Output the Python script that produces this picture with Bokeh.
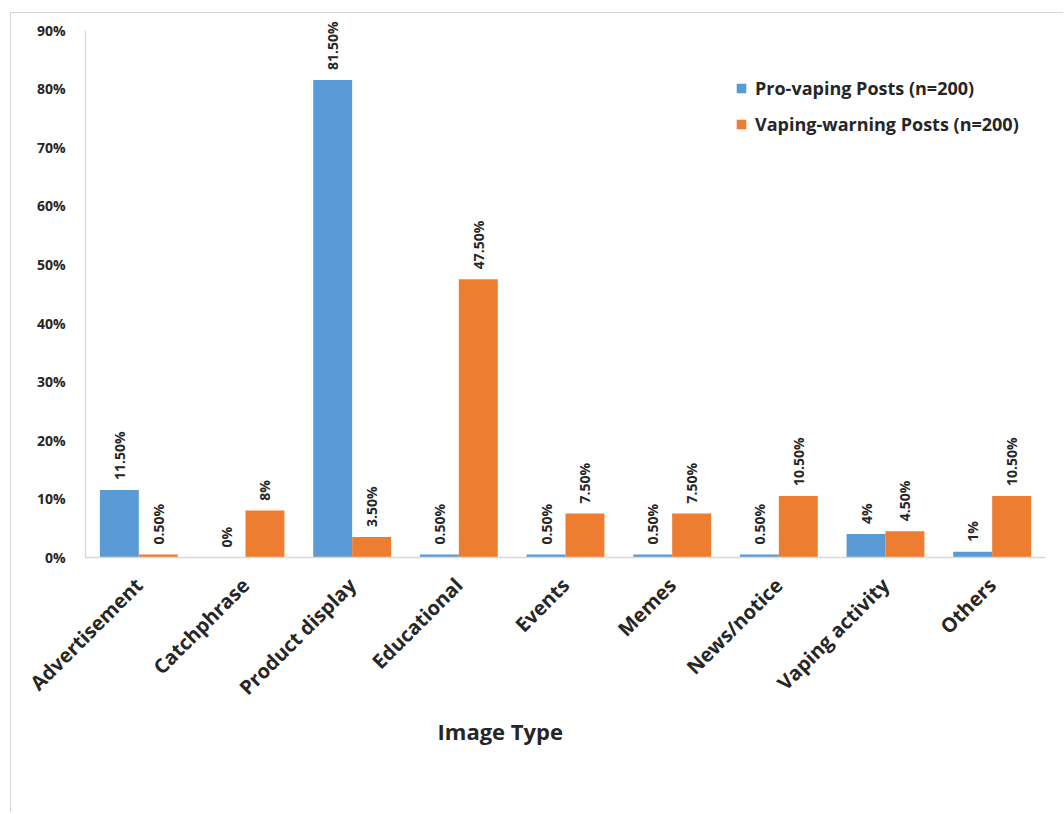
import math
from bokeh.plotting import figure
from bokeh.models import (ColumnDataSource, FactorRange, FixedTicker, PrintfTickFormatter,
                          Legend, LegendItem, LabelSet, Title)
from bokeh.transform import dodge
from bokeh.core.properties import value
from bokeh.embed import file_html
from bokeh.resources import INLINE

categories = ["Advertisement", "Catchphrase", "Product display", "Educational", "Events",
              "Memes", "News/notice", "Vaping activity", "Others"]
pro_vaping = [11.5, 0, 81.5, 0.5, 0.5, 0.5, 0.5, 4, 1]
vaping_warning = [0.5, 8, 3.5, 47.5, 7.5, 7.5, 10.5, 4.5, 10.5]
pro_labels = ["11.50%", "0%", "81.50%", "0.50%", "0.50%", "0.50%", "0.50%", "4%", "1%"]
warn_labels = ["0.50%", "8%", "3.50%", "47.50%", "7.50%", "7.50%", "10.50%", "4.50%", "10.50%"]
series_names = ["Pro-vaping Posts (n=200)", "Vaping-warning Posts (n=200)"]
y_ticks = [0, 10, 20, 30, 40, 50, 60, 70, 80, 90]
x_title = "Image Type"

FONT = "Open Sans"
TXT = "#262626"
BLUE = "#5B9BD5"
ORANGE = "#ED7D31"
OFF = 0.1825
BW = 0.365

idx = list(range(len(categories)))
src = ColumnDataSource(dict(
    cat=categories, pro=pro_vaping, warn=vaping_warning,
    pro_lab=pro_labels, warn_lab=warn_labels,
    xp=[i + 0.5 - OFF for i in idx], xw=[i + 0.5 + OFF for i in idx],
))

p = figure(x_range=FactorRange(factors=categories, range_padding=0), y_range=(0, 92.5),
           width=1053, height=800, output_backend="svg", toolbar_location=None,
           min_border_left=74, min_border_right=19, min_border_top=2, min_border_bottom=256)
p.styles = {"border-left": "1px solid #d4d4d4", "border-top": "1px solid #d4d4d4",
            "margin-left": "10px", "margin-top": "12px"}

r1 = p.vbar(x=dodge("cat", -OFF, range=p.x_range), top="pro", width=BW, source=src,
            fill_color=BLUE, line_color=None)
r2 = p.vbar(x=dodge("cat", OFF, range=p.x_range), top="warn", width=BW, source=src,
            fill_color=ORANGE, line_color=None)

for xcol, ycol, tcol in (("xp", "pro", "pro_lab"), ("xw", "warn", "warn_lab")):
    ls = LabelSet(x=xcol, y=ycol, text=tcol, source=src, angle=math.pi / 2,
                  text_align="left", text_baseline="middle", y_offset=10,
                  text_font=value(FONT), text_font_style="bold", text_font_size="14px",
                  text_color=TXT)
    p.add_layout(ls)

p.xgrid.visible = False
p.ygrid.visible = False
p.outline_line_color = None

p.yaxis.ticker = FixedTicker(ticks=y_ticks)
p.yaxis.bounds = (y_ticks[0], y_ticks[-1])
p.yaxis.formatter = PrintfTickFormatter(format="%d%%")
p.yaxis.axis_line_color = "#d9d9d9"
p.yaxis.axis_line_width = 1.5
p.yaxis.major_tick_line_color = None
p.yaxis.minor_tick_line_color = None
p.yaxis.major_label_standoff = 14
p.yaxis.major_label_text_font = FONT
p.yaxis.major_label_text_font_style = "bold"
p.yaxis.major_label_text_font_size = "14px"
p.yaxis.major_label_text_color = TXT

p.xaxis.axis_line_color = "#d9d9d9"
p.xaxis.axis_line_width = 1.5
p.xaxis.major_tick_line_color = None
p.xaxis.minor_tick_line_color = None
p.xaxis.major_label_orientation = math.pi / 4
p.xaxis.major_label_standoff = 18
p.xaxis.major_label_text_font = FONT
p.xaxis.major_label_text_font_style = "bold"
p.xaxis.major_label_text_font_size = "20px"
p.xaxis.major_label_text_color = TXT

legend = Legend(items=[LegendItem(label=series_names[0], renderers=[r1]),
                       LegendItem(label=series_names[1], renderers=[r2])],
                location=(650, 421))
legend.border_line_color = None
legend.background_fill_alpha = 0
legend.padding = 0
legend.margin = 0
legend.spacing = 12
legend.glyph_width = 12
legend.glyph_height = 12
legend.label_height = 20
legend.label_standoff = 8
legend.label_text_font = FONT
legend.label_text_font_style = "bold"
legend.label_text_font_size = "18px"
legend.label_text_color = TXT
p.add_layout(legend)

title = Title(text=x_title, align="left", offset=352, standoff=1,
              text_font=FONT, text_font_style="bold", text_font_size="22px", text_color=TXT)
p.add_layout(title, "below")

open("out.html", "w").write(file_html(p, INLINE))
